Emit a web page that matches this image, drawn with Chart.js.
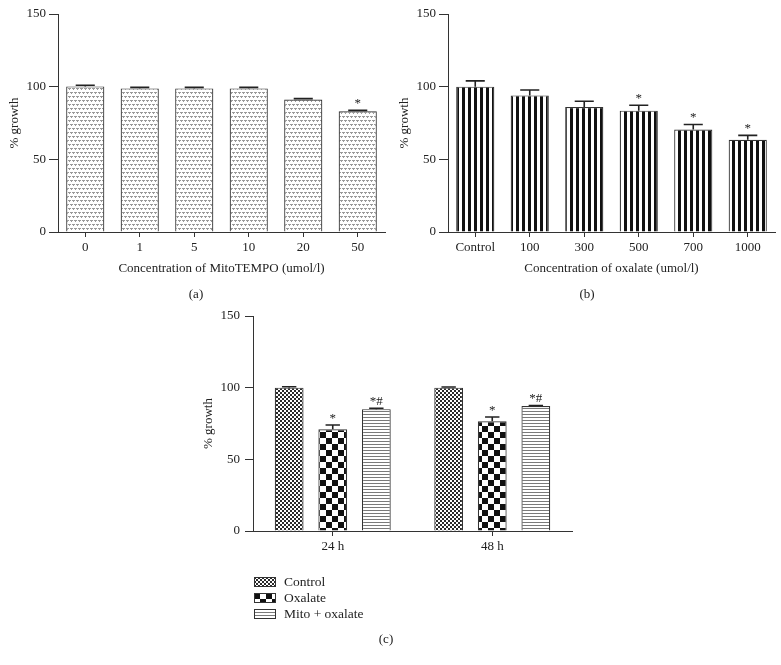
<!DOCTYPE html>
<html>
<head>
<meta charset="utf-8">
<script src="https://cdn.jsdelivr.net/npm/chart.js@4.4.1/dist/chart.umd.min.js"></script>
<style>
  body { margin: 0; background: #fff; width: 781px; height: 665px; position: relative; overflow: hidden;
         font-family: "Liberation Serif", serif; color: #222; }
  canvas { position: absolute; }
  .cap { position: absolute; font-size: 13px; line-height: 16px; width: 40px; margin-left: -20px; text-align: center; color: #222; }
  #legendC { position: absolute; left: 254px; top: 574px; font-size: 13.5px; color: #222; }
  .li { display: flex; align-items: center; height: 16px; }
  .li canvas { position: static; margin-right: 8px; }
</style>
</head>
<body>
<canvas id="chartA" width="390" height="280" style="left:0;top:0"></canvas>
<canvas id="chartB" width="391" height="280" style="left:390px;top:0"></canvas>
<canvas id="chartC" width="404" height="350" style="left:200px;top:300px"></canvas>
<div class="cap" style="left:196px;top:286px">(a)</div>
<div class="cap" style="left:587px;top:286px">(b)</div>
<div id="legendC"></div>

<script>
/* ── Data ───────────────────────────────────────────── */
const aLabels = ['0', '1', '5', '10', '20', '50'];
const aGrowth = [100.2, 98.8, 98.8, 98.8, 91.2, 83.0];
const aSem    = [0.8, 0.7, 0.7, 0.7, 0.6, 0.7];
const aMarks  = ['', '', '', '', '', '*'];

const bLabels = ['Control', '100', '300', '500', '700', '1000'];
const bGrowth = [100.0, 94.0, 86.0, 83.5, 70.5, 63.5];
const bSem    = [4.0, 3.7, 4.0, 3.7, 3.5, 3.0];
const bMarks  = ['', '', '', '*', '*', '*'];

const cLabels     = ['24 h', '48 h'];
const cSeries     = ['Control', 'Oxalate', 'Mito + oxalate'];
const cControl    = [100.0, 100.0];
const cControlSem = [0.6, 0.5];
const cOxalate    = [71.0, 76.5];
const cOxalateSem = [3.0, 3.0];
const cMito       = [85.0, 87.2];
const cMitoSem    = [0.6, 0.4];
const cOxMarks    = ['*', '*'];
const cMitoMarks  = ['*#', '*#'];

const yTicks = [0, 50, 100, 150];

/* ── Look ───────────────────────────────────────────── */
const TEXT = '#222';
const AXIS = '#333';
const FONT = { family: '"Liberation Serif", serif', size: 13 };

/* ── Fill patterns ──────────────────────────────────── */
function makePattern(kind) {
  const c = document.createElement('canvas');
  const g = c.getContext('2d');
  const sizes = { dots: [4, 8], vstripes: [6, 1], fine: [4, 4], check: [12, 12], hstripes: [1, 3] };
  [c.width, c.height] = sizes[kind];
  g.fillStyle = '#fff';
  g.fillRect(0, 0, c.width, c.height);
  if (kind === 'dots') {
    g.fillStyle = '#9a9a9a';
    g.fillRect(0, 0, 3, 1); g.fillRect(1, 1, 1, 1);
    g.fillRect(2, 4, 2, 1); g.fillRect(0, 4, 1, 1); g.fillRect(3, 5, 1, 1);
  } else if (kind === 'vstripes') {
    g.fillStyle = '#111';
    g.fillRect(0, 0, 3, 1);
  } else if (kind === 'fine') {
    g.fillStyle = '#2a2a2a';
    g.fillRect(0, 0, 2, 2); g.fillRect(2, 2, 2, 2);
  } else if (kind === 'check') {
    g.fillStyle = '#111';
    g.fillRect(0, 0, 6, 6); g.fillRect(6, 6, 6, 6);
  } else if (kind === 'hstripes') {
    g.fillStyle = '#7a7a7a';
    g.fillRect(0, 0, 1, 1);
  }
  return g.createPattern(c, 'repeat');
}

/* ── Error bars + significance marks ────────────────── */
const errorBars = {
  id: 'errorBars',
  afterDatasetsDraw(chart) {
    const { ctx } = chart;
    const y = chart.scales.y;
    chart.data.datasets.forEach((ds, i) => {
      chart.getDatasetMeta(i).data.forEach((bar, j) => {
        const top = y.getPixelForValue(ds.data[j] + ds.sem[j]);
        const half = bar.width / 4;
        ctx.save();
        ctx.strokeStyle = '#222';
        ctx.lineWidth = 1.6;
        ctx.beginPath();
        ctx.moveTo(bar.x, bar.y);
        ctx.lineTo(bar.x, top);
        ctx.moveTo(bar.x - half, top);
        ctx.lineTo(bar.x + half, top);
        ctx.stroke();
        const m = ds.marks && ds.marks[j];
        if (m) {
          ctx.fillStyle = TEXT;
          ctx.font = '13px "Liberation Serif", serif';
          ctx.textAlign = 'center';
          ctx.textBaseline = 'alphabetic';
          ctx.fillText(m, bar.x, top - 3);
        }
        ctx.restore();
      });
    });
  }
};

/* ── Chart builder ──────────────────────────────────── */
function barChart(id, labels, datasets, cfg) {
  return new Chart(document.getElementById(id), {
    type: 'bar',
    data: { labels, datasets },
    plugins: [errorBars],
    options: {
      responsive: false,
      animation: false,
      layout: { padding: { top: cfg.top, right: cfg.right, left: 0, bottom: 0 } },
      datasets: { bar: { categoryPercentage: cfg.catPct, barPercentage: cfg.barPct, borderWidth: 1.2, borderColor: AXIS } },
      plugins: {
        legend: { display: false },
        tooltip: { enabled: false },
        subtitle: { display: !!cfg.caption, text: cfg.caption || '', position: 'bottom', color: TEXT, font: FONT,
                    padding: { top: 0, bottom: 3 } }
      },
      scales: {
        x: {
          grid: { drawOnChartArea: false, offset: false, tickLength: 5, color: AXIS },
          border: { color: AXIS, width: 1 },
          ticks: { color: TEXT, font: FONT, padding: 3, maxRotation: 0 },
          title: { display: !!cfg.xTitle, text: cfg.xTitle || '', color: TEXT, font: FONT, padding: { top: 0, bottom: 4 } },
          afterFit: s => { s.height = cfg.xH; }
        },
        y: {
          min: yTicks[0], max: yTicks[yTicks.length - 1],
          afterBuildTicks: s => { s.ticks = yTicks.map(v => ({ value: v })); },
          ticks: { color: TEXT, font: FONT, padding: cfg.yPad },
          grid: { drawOnChartArea: false, tickLength: cfg.yTick, color: AXIS },
          border: { color: AXIS, width: 1 },
          title: { display: true, text: '% growth', color: TEXT, font: FONT, padding: { top: cfg.yTitlePad, bottom: 0 } },
          afterFit: s => { s.width = cfg.yW; }
        }
      }
    }
  });
}

const dots = makePattern('dots');
const vstripes = makePattern('vstripes');

barChart('chartA', aLabels,
  [{ data: aGrowth, sem: aSem, marks: aMarks, backgroundColor: dots }],
  { top: 14, right: 5, xH: 48, yW: 58, yPad: 3, yTick: 9, yTitlePad: 7, catPct: 1, barPct: 0.7,
    xTitle: 'Concentration of MitoTEMPO (umol/l)' });

barChart('chartB', bLabels,
  [{ data: bGrowth, sem: bSem, marks: bMarks, backgroundColor: vstripes }],
  { top: 14, right: 6, xH: 48, yW: 58, yPad: 3, yTick: 9, yTitlePad: 7, catPct: 1, barPct: 0.7,
    xTitle: 'Concentration of oxalate (umol/l)' });

// (c): subtitle box takes 15.6 + 3 px at the bottom, so x height keeps chart bottom at 231
const chartC = barChart('chartC', cLabels, [
  { label: cSeries[0], data: cControl, sem: cControlSem, marks: [], backgroundColor: makePattern('fine') },
  { label: cSeries[1], data: cOxalate, sem: cOxalateSem, marks: cOxMarks, backgroundColor: makePattern('check') },
  { label: cSeries[2], data: cMito, sem: cMitoSem, marks: cMitoMarks, backgroundColor: makePattern('hstripes') }
], { top: 16, right: 32, xH: 100.4, yW: 53, yPad: 5, yTick: 8, yTitlePad: 1, catPct: 0.82, barPct: 0.66,
     caption: '(c)' });

/* ── Legend for (c) ─────────────────────────────────── */
const legendEl = document.getElementById('legendC');
Chart.defaults.plugins.legend.labels.generateLabels(chartC).forEach(item => {
  const row = document.createElement('div');
  row.className = 'li';
  const sw = document.createElement('canvas');
  sw.width = 22; sw.height = 10;
  const g = sw.getContext('2d');
  g.fillStyle = item.fillStyle;
  g.fillRect(0, 0, 22, 10);
  g.strokeStyle = AXIS;
  g.strokeRect(0.5, 0.5, 21, 9);
  row.appendChild(sw);
  row.appendChild(document.createTextNode(item.text));
  legendEl.appendChild(row);
});
</script>
</body>
</html>
